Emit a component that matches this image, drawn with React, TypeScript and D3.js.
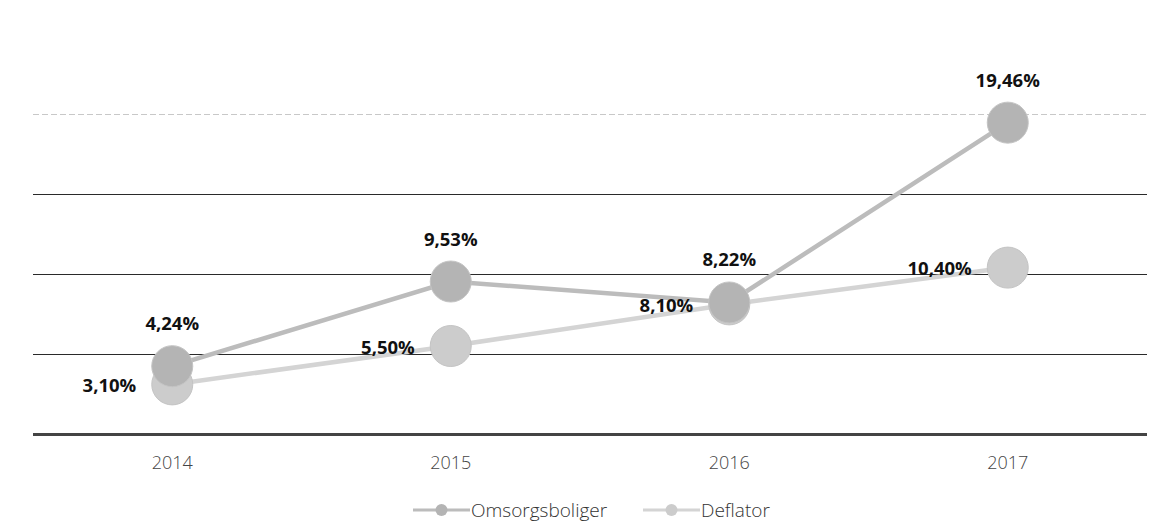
import React from "react";
import * as d3 from "d3";

const years = ["2014", "2015", "2016", "2017"];
const omsorgsboliger = [4.24, 9.53, 8.22, 19.46];
const deflator = [3.1, 5.5, 8.1, 10.4];
const yTicks = [0, 5, 10, 15, 20];

const W = 1163;
const H = 524;
const M = { left: 33, right: 16, top: 114, bottom: 90 };

const fmt = (v: number) => v.toFixed(2).replace(".", ",") + "%";

export default function App() {
  const x = d3
    .scaleBand<string>()
    .domain(years)
    .range([M.left, W - M.right]);
  const y = d3
    .scaleLinear()
    .domain([0, 20])
    .range([H - M.bottom, M.top]);
  const cx = (d: string) => (x(d) as number) + x.bandwidth() / 2;
  const line = d3
    .line<number>()
    .x((_, i) => cx(years[i]))
    .y((v) => y(v));

  const font = "'Open Sans', 'Liberation Sans', sans-serif";
  const series = [
    { name: "Omsorgsboliger", values: omsorgsboliger, stroke: "#bcbcbc", fill: "#b4b4b4" },
    { name: "Deflator", values: deflator, stroke: "#d4d4d4", fill: "#cccccc" },
  ];

  return (
    <svg
      width={W}
      height={H}
      style={{ position: "absolute", left: 0, top: 0, background: "#fff" }}
    >
      {yTicks.map((t) => (
        <line
          key={t}
          x1={M.left}
          x2={W - M.right}
          y1={y(t) + 0.5}
          y2={y(t) + 0.5}
          stroke={t === 0 ? "#444" : t === 20 ? "#c8c8c8" : "#2a2a2a"}
          strokeWidth={t === 0 ? 3 : 1}
          shapeRendering="crispEdges"
          strokeDasharray={t === 20 ? "6 3" : undefined}
        />
      ))}
      {years.map((yr) => (
        <text
          key={yr}
          x={cx(yr)}
          y={469}
          textAnchor="middle"
          fontFamily={font}
          fontWeight={300}
          fontSize={18}
          fill="#444"
        >
          {yr}
        </text>
      ))}
      {series
        .slice()
        .reverse()
        .map((s) => (
          <g key={s.name}>
            <path d={line(s.values) || ""} fill="none" stroke={s.stroke} strokeWidth={4.5} />
          </g>
        ))}
      {series
        .slice()
        .reverse()
        .map((s) => (
          <g key={s.name + "m"}>
            {s.values.map((v, i) => (
              <circle
                key={i}
                cx={cx(years[i])}
                cy={y(v)}
                r={20.5}
                fill={s.fill}
                stroke="#c4c4c4"
                strokeWidth={1}
              />
            ))}
          </g>
        ))}
      {omsorgsboliger.map((v, i) => (
        <text
          key={"o" + i}
          x={cx(years[i])}
          y={y(v) - 36}
          textAnchor="middle"
          fontFamily={font}
          fontWeight="bold"
          fontSize={18.5}
          fill="#111"
        >
          {fmt(v)}
        </text>
      ))}
      {deflator.map((v, i) => (
        <text
          key={"d" + i}
          x={cx(years[i]) - 36}
          y={y(v) + 7.5}
          textAnchor="end"
          fontFamily={font}
          fontWeight="bold"
          fontSize={18.5}
          fill="#111"
        >
          {fmt(v)}
        </text>
      ))}
      <g fontFamily={font} fontSize={19} fontWeight={300} fill="#333">
        <line x1={413} x2={470} y1={510} y2={510} stroke="#bcbcbc" strokeWidth={3} />
        <circle cx={441.5} cy={510} r={6} fill="#b4b4b4" />
        <text x={471} y={517}>Omsorgsboliger</text>
        <line x1={643} x2={700} y1={510} y2={510} stroke="#d4d4d4" strokeWidth={3} />
        <circle cx={671.5} cy={510} r={6} fill="#cccccc" />
        <text x={701} y={517}>Deflator</text>
      </g>
    </svg>
  );
}
